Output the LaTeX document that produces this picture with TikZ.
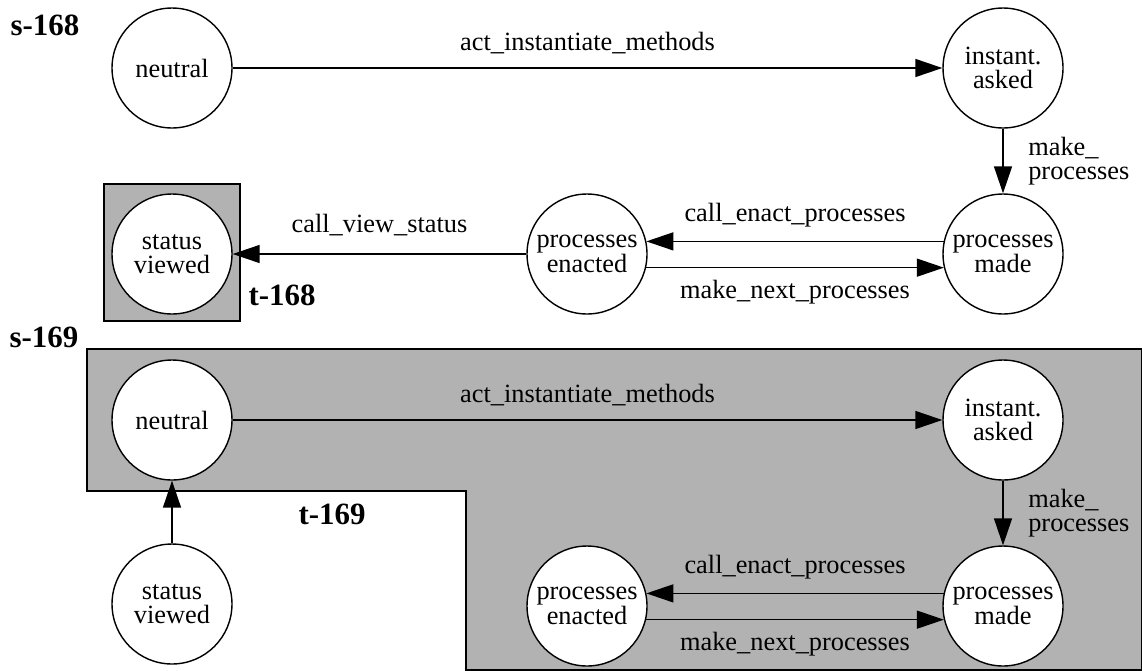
\documentclass[tikz,border=0pt]{standalone}
\usepackage{fontspec}
\setmainfont{Liberation Serif}
\usetikzlibrary{arrows.meta}

\tikzset{
  statenode/.style={circle, draw, fill=white, line width=0.8pt, minimum size=2.4cm,
    inner sep=0pt, align=center, font=\fontsize{15}{13.6}\selectfont},
  trans/.style={-{Triangle[length=0.54cm,width=0.36cm]}, line width=0.8pt},
  tlabel/.style={font=\fontsize{15}{13.6}\selectfont, inner sep=0pt},
  blocklabel/.style={font=\fontsize{17.6}{19}\selectfont\bfseries, inner sep=0pt},
  region/.style={draw, fill=black!30, line width=0.8pt},
}

\begin{document}
\begin{tikzpicture}[x=0.02cm, y=-0.02cm]
    \useasboundingbox (0,0) rectangle (1142,670);

    % shaded targets
    \draw[region] (104,184) rectangle (240,321);
    \draw[region] (87,349) -- (1142,349) -- (1142,670) -- (466,670) -- (466,491) -- (87,491) -- cycle;

    \begin{scope}
        \node[blocklabel] (sA) at (45,25) {s-168};
        \node[blocklabel] (tA) at (282,295) {t-168};
        \node[statenode] (neutralA) at (172,68) {neutral};
        \node[statenode] (askedA) at (1003,68) {instant.\\asked};
        \node[statenode] (madeA) at (1003,254) {processes\\made};
        \node[statenode] (enactedA) at (587,254) {processes\\enacted};
        \node[statenode] (viewedA) at (172,254) {status\\viewed};
        \draw[trans] (neutralA) -- node[tlabel, anchor=base, yshift=10.2pt] {act\_instantiate\_methods} (askedA);
        \draw[trans] (askedA) -- node[tlabel, anchor=west, xshift=14pt, align=left] {make\_\\processes} (madeA);
        \draw[trans] (madeA.168) -- node[tlabel, anchor=base, yshift=11.3pt] {call\_enact\_processes} (enactedA.12);
        \draw[trans] (enactedA.-13) -- node[tlabel, anchor=base, yshift=-17.6pt] {make\_next\_processes} (madeA.193);
        \draw[trans] (enactedA) -- node[tlabel, anchor=base, yshift=12.5pt] {call\_view\_status} (viewedA);
    \end{scope}

    \begin{scope}[shift={(0,352)}]
        \node[blocklabel] (sB) at (44,-15) {s-169};
        \node[blocklabel] (tB) at (332,162) {t-169};
        \node[statenode] (neutralB) at (172,68) {neutral};
        \node[statenode] (askedB) at (1003,68) {instant.\\asked};
        \node[statenode] (madeB) at (1003,254) {processes\\made};
        \node[statenode] (enactedB) at (587,254) {processes\\enacted};
        \node[statenode] (viewedB) at (172,252) {status\\viewed};
        \draw[trans] (neutralB) -- node[tlabel, anchor=base, yshift=10.2pt] {act\_instantiate\_methods} (askedB);
        \draw[trans] (askedB) -- node[tlabel, anchor=west, xshift=14pt, align=left] {make\_\\processes} (madeB);
        \draw[trans] (madeB.168) -- node[tlabel, anchor=base, yshift=11.3pt] {call\_enact\_processes} (enactedB.12);
        \draw[trans] (enactedB.-13) -- node[tlabel, anchor=base, yshift=-17.6pt] {make\_next\_processes} (madeB.193);
        \draw[trans] (viewedB) -- (neutralB);
    \end{scope}
\end{tikzpicture}
\end{document}
